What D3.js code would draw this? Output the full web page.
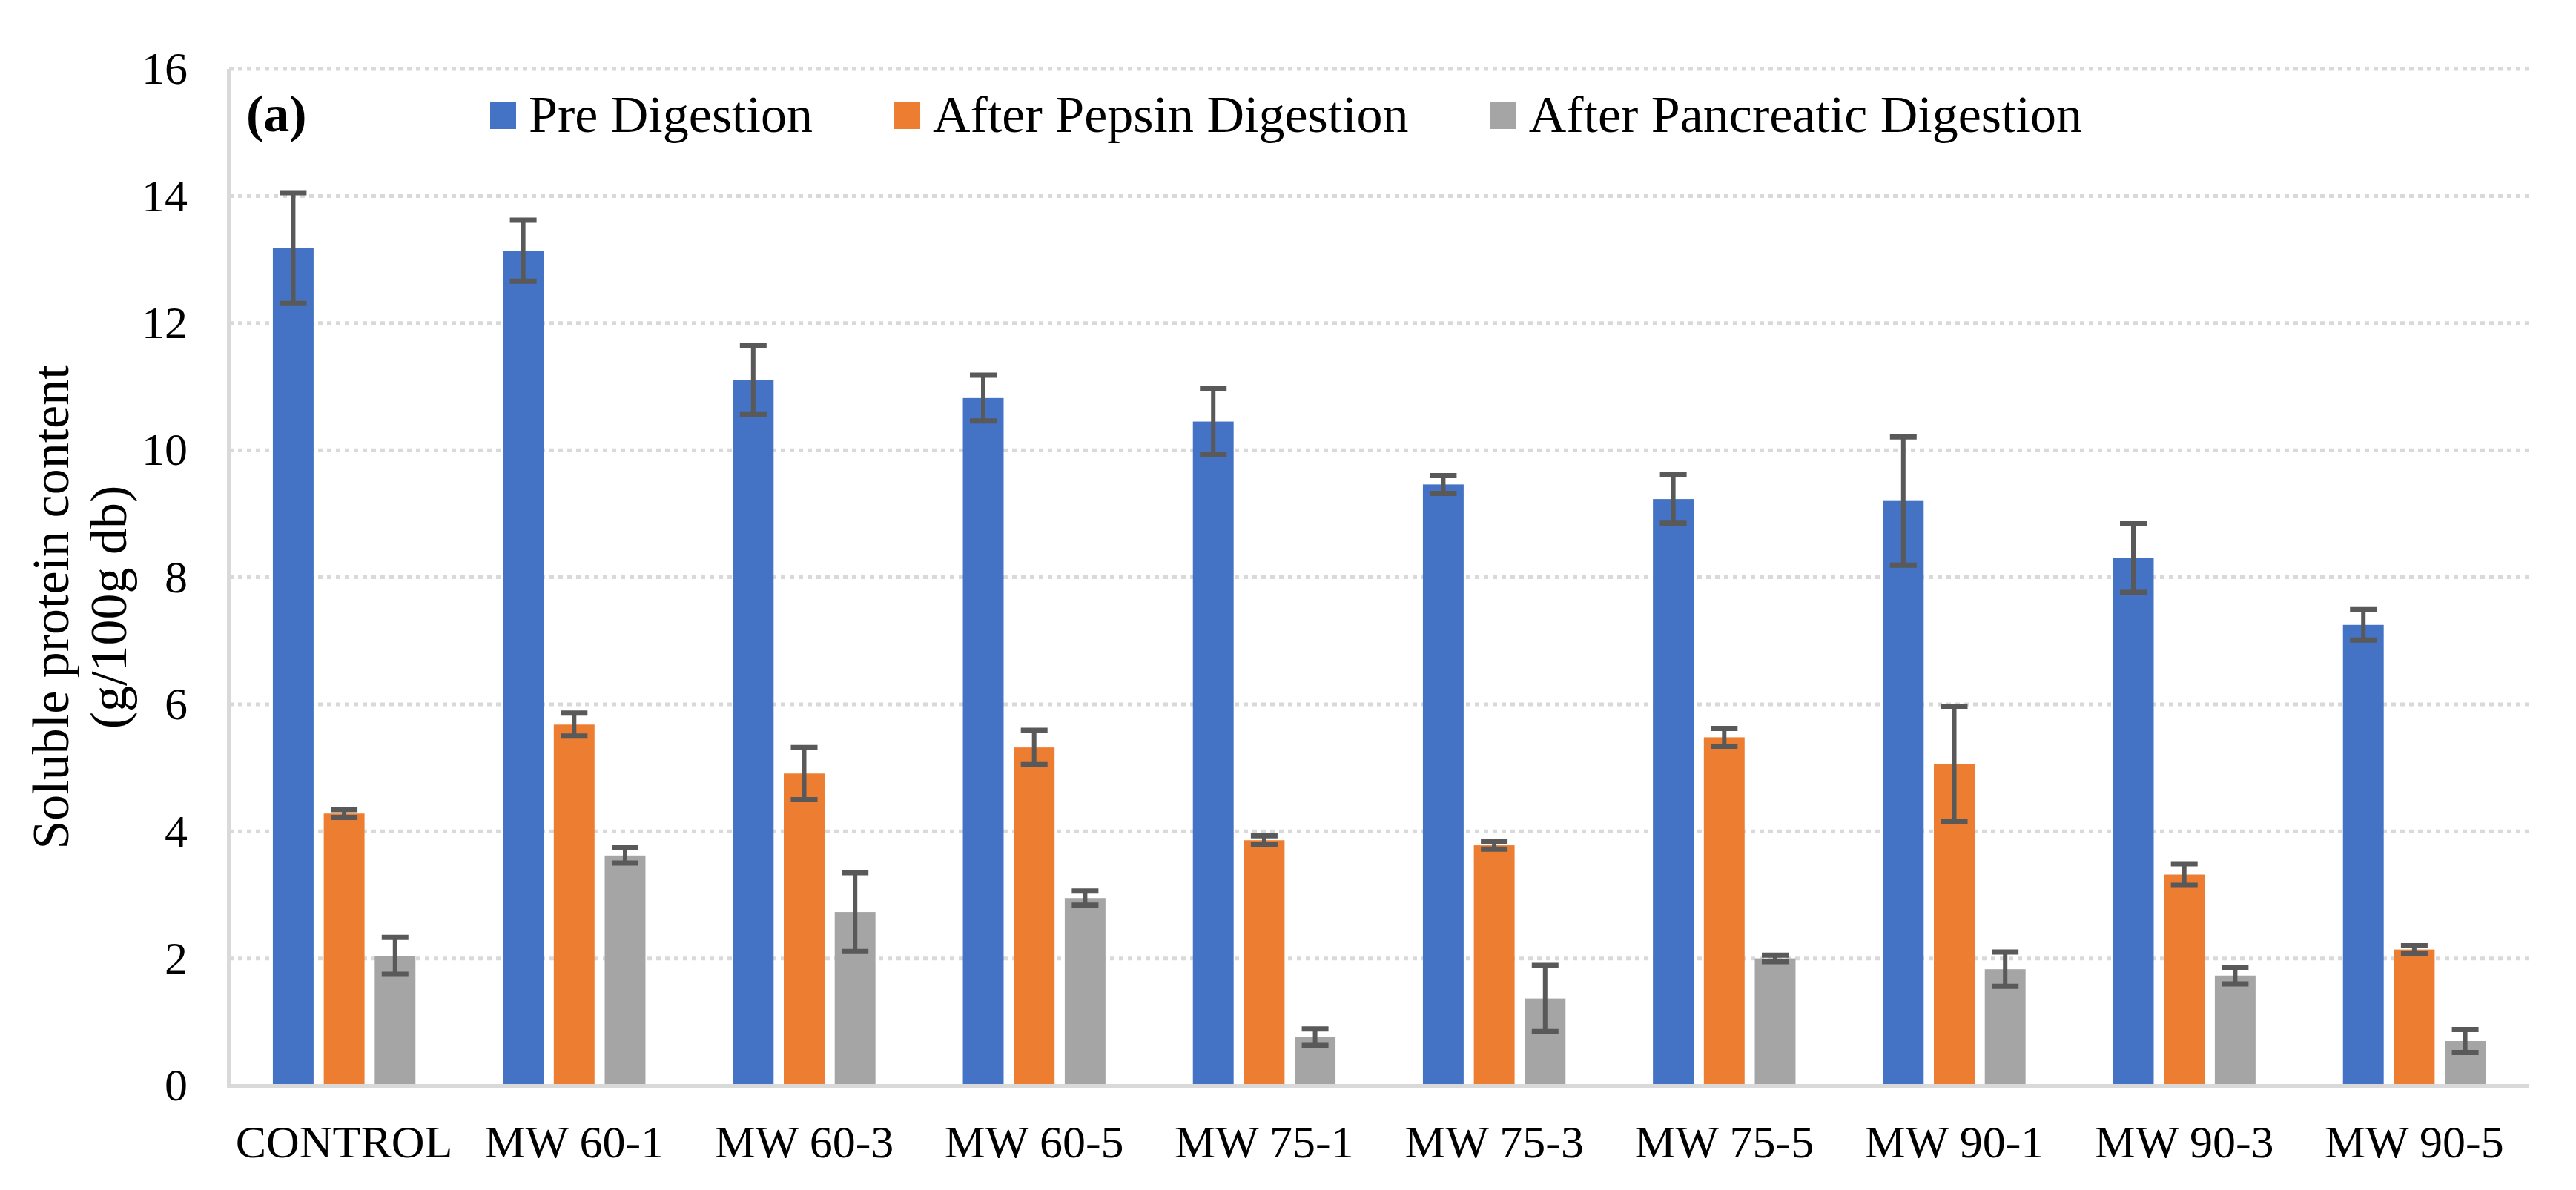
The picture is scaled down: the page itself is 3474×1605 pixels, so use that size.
<!DOCTYPE html>
<html>
<head>
<meta charset="utf-8">
<script src="https://cdn.jsdelivr.net/npm/d3@7"></script>
<style>
  html, body { margin: 0; padding: 0; background: #fff; }
  svg { display: block; font-family: "Liberation Serif", "Times New Roman", serif; }
</style>
</head>
<body>
<svg id="chart" width="3474" height="1605"></svg>
<script>
// Soluble protein content per treatment, three digestion stages.
const categories = ['CONTROL', 'MW 60-1', 'MW 60-3', 'MW 60-5', 'MW 75-1',
                    'MW 75-3', 'MW 75-5', 'MW 90-1', 'MW 90-3', 'MW 90-5'];
const seriesNames = ['Pre Digestion', 'After Pepsin Digestion', 'After Pancreatic Digestion'];
const seriesColors = ['#4472C4', '#ED7D31', '#A5A5A5'];

const preValues      = [13.18, 13.14, 11.10, 10.82, 10.45, 9.46, 9.23, 9.20, 8.30, 7.25];
const preErrors      = [0.87, 0.48, 0.54, 0.36, 0.52, 0.14, 0.38, 1.01, 0.54, 0.24];
const pepsinValues   = [4.28, 5.68, 4.91, 5.32, 3.86, 3.78, 5.48, 5.06, 3.32, 2.14];
const pepsinErrors   = [0.06, 0.18, 0.41, 0.27, 0.07, 0.06, 0.14, 0.91, 0.17, 0.06];
const pancValues     = [2.04, 3.62, 2.73, 2.95, 0.76, 1.37, 2.00, 1.83, 1.73, 0.70];
const pancErrors     = [0.29, 0.12, 0.62, 0.11, 0.13, 0.52, 0.05, 0.27, 0.13, 0.18];

const yTicks = [0, 2, 4, 6, 8, 10, 12, 14, 16];

// ─── Layout ────────────────────────────────────────────────────────────────
const plot = { left: 309, right: 3411, top: 93, bottom: 1464 };
const GRID = '#D9D9D9';
const ERR = '#595959';

const svg = d3.select('#chart');
svg.append('rect').attr('width', 3474).attr('height', 1605).attr('fill', '#fff');

const x0 = d3.scaleBand().domain(categories).range([plot.left, plot.right]).padding(0);
const clusterW = x0.bandwidth() * 0.62;
const x1 = d3.scaleBand().domain(seriesNames)
  .range([(x0.bandwidth() - clusterW) / 2, (x0.bandwidth() + clusterW) / 2])
  .paddingInner(0.2).paddingOuter(0);
const y = d3.scaleLinear().domain([0, 16]).range([plot.bottom, plot.top]);

// gridlines (dotted)
svg.append('g').selectAll('line')
  .data(yTicks.filter(t => t > 0))
  .join('line')
    .attr('x1', plot.left).attr('x2', plot.right)
    .attr('y1', d => y(d)).attr('y2', d => y(d))
    .attr('stroke', GRID).attr('stroke-width', 5)
    .attr('stroke-dasharray', '6 6');

// y axis (ticks hidden, labels only) + light axis line
const yAxis = d3.axisLeft(y).tickValues(yTicks).tickSize(0).tickPadding(56);
const gy = svg.append('g').attr('transform', `translate(${plot.left},0)`).call(yAxis);
gy.select('.domain').remove();
gy.selectAll('text')
  .attr('font-family', '"Liberation Serif", "Times New Roman", serif')
  .attr('font-size', 62).attr('fill', '#000');

svg.append('line')
  .attr('x1', plot.left).attr('x2', plot.left)
  .attr('y1', plot.top).attr('y2', plot.bottom + 3)
  .attr('stroke', GRID).attr('stroke-width', 6);

// bars
const rows = categories.map((c, i) => ({
  cat: c,
  vals: [
    { s: seriesNames[0], v: preValues[i],    e: preErrors[i],    col: seriesColors[0] },
    { s: seriesNames[1], v: pepsinValues[i], e: pepsinErrors[i], col: seriesColors[1] },
    { s: seriesNames[2], v: pancValues[i],   e: pancErrors[i],   col: seriesColors[2] }
  ]
}));

const groups = svg.append('g').selectAll('g')
  .data(rows)
  .join('g')
    .attr('transform', d => `translate(${x0(d.cat)},0)`);

groups.selectAll('rect')
  .data(d => d.vals)
  .join('rect')
    .attr('x', d => x1(d.s))
    .attr('width', x1.bandwidth())
    .attr('y', d => y(d.v))
    .attr('height', d => y(0) - y(d.v) - 2)
    .attr('fill', d => d.col);

// bottom axis line (drawn over bars' foot)
svg.append('line')
  .attr('x1', plot.left - 3).attr('x2', plot.right)
  .attr('y1', plot.bottom + 1).attr('y2', plot.bottom + 1)
  .attr('stroke', GRID).attr('stroke-width', 6);

// error bars
const CAP = 36;
const eb = groups.selectAll('g.err')
  .data(d => d.vals)
  .join('g')
    .attr('class', 'err')
    .attr('transform', d => `translate(${x1(d.s) + x1.bandwidth() / 2},0)`);
eb.append('line')
  .attr('y1', d => y(d.v + d.e)).attr('y2', d => y(d.v - d.e))
  .attr('stroke', ERR).attr('stroke-width', 6);
eb.selectAll('line.cap')
  .data(d => [d.v + d.e, d.v - d.e])
  .join('line')
    .attr('class', 'cap')
    .attr('x1', -CAP / 2).attr('x2', CAP / 2)
    .attr('y1', d => y(d)).attr('y2', d => y(d))
    .attr('stroke', ERR).attr('stroke-width', 7);

// x category labels
const xAxis = d3.axisBottom(x0).tickSize(0).tickPadding(0);
const gx = svg.append('g').attr('transform', `translate(0,${plot.bottom})`).call(xAxis);
gx.select('.domain').remove();
gx.selectAll('text')
  .attr('font-family', '"Liberation Serif", "Times New Roman", serif')
  .attr('font-size', 62).attr('fill', '#000')
  .attr('dy', null).attr('y', 97);

// y axis title (two lines, rotated)
const yTitle = svg.append('text')
  .attr('transform', 'translate(0,819) rotate(-90)')
  .attr('text-anchor', 'middle')
  .attr('font-size', 70).attr('fill', '#000');
yTitle.append('tspan').attr('x', 0).attr('y', 92).text('Soluble protein content');
yTitle.append('tspan').attr('x', 0).attr('y', 170).text('(g/100g db)');

// panel label
svg.append('text')
  .attr('x', 332).attr('y', 177)
  .attr('font-size', 70).attr('font-weight', 'bold').attr('fill', '#000')
  .text('(a)');

// legend
let lx = 661;
seriesNames.forEach((name, i) => {
  svg.append('rect')
    .attr('x', lx).attr('y', 137).attr('width', 35).attr('height', 37)
    .attr('fill', seriesColors[i]);
  const t = svg.append('text')
    .attr('x', lx + 52).attr('y', 178)
    .attr('font-size', 70).attr('fill', '#000')
    .text(name);
  lx += 52 + t.node().getComputedTextLength() + 110;
});
</script>
</body>
</html>
